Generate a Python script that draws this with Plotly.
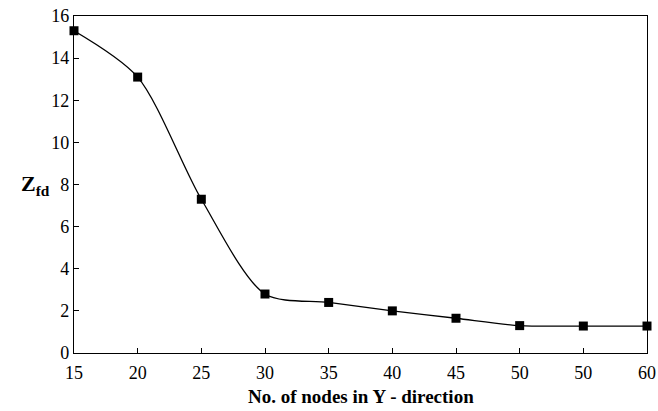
import plotly.graph_objects as go

x_labels = ["15", "20", "25", "30", "35", "40", "45", "50", "50", "60"]
z_fd = [15.3, 13.1, 7.3, 2.8, 2.4, 2.0, 1.65, 1.3, 1.28, 1.28]
y_ticks = [0, 2, 4, 6, 8, 10, 12, 14, 16]

xpos = list(range(len(x_labels)))

fig = go.Figure()
fig.add_trace(go.Scatter(
    x=xpos, y=z_fd, mode="lines+markers",
    line=dict(color="black", width=1.3, shape="spline", smoothing=0.8),
    marker=dict(symbol="square", size=9, color="black"),
    cliponaxis=False, showlegend=False,
))

font_family = "Liberation Serif"
fig.update_layout(
    width=658, height=411,
    margin=dict(l=74, r=11, t=16, b=58, autoexpand=False),
    paper_bgcolor="white", plot_bgcolor="white",
    font=dict(family=font_family, size=17, color="black"),
    xaxis=dict(
        range=[0, len(x_labels) - 1], tickvals=xpos, ticktext=x_labels,
        ticks="inside", ticklen=5, tickcolor="black",
        tickfont=dict(family=font_family, size=18),
        ticklabelstandoff=3,
        showline=True, linecolor="black", linewidth=1.2, mirror=True,
        showgrid=False, zeroline=False, automargin=False,
    ),
    yaxis=dict(
        range=[0, 16], tickvals=y_ticks,
        ticks="inside", ticklen=5, tickcolor="black",
        tickfont=dict(family=font_family, size=18),
        showline=True, linecolor="black", linewidth=1.2, mirror=True,
        showgrid=False, zeroline=False, automargin=False,
    ),
    annotations=[
        dict(
            text="<b>Z<sub>fd</sub></b>", xref="paper", yref="paper",
            x=-0.068, y=0.5, xanchor="center", yanchor="middle",
            showarrow=False, font=dict(size=22, family=font_family),
        ),
        dict(
            text="<b>No. of nodes in Y - direction</b>", xref="paper", yref="paper",
            x=0.5, y=-0.128, xanchor="center", yanchor="middle",
            showarrow=False, font=dict(size=19, family=font_family),
        ),
    ],
)
fig.write_html("out.html")
